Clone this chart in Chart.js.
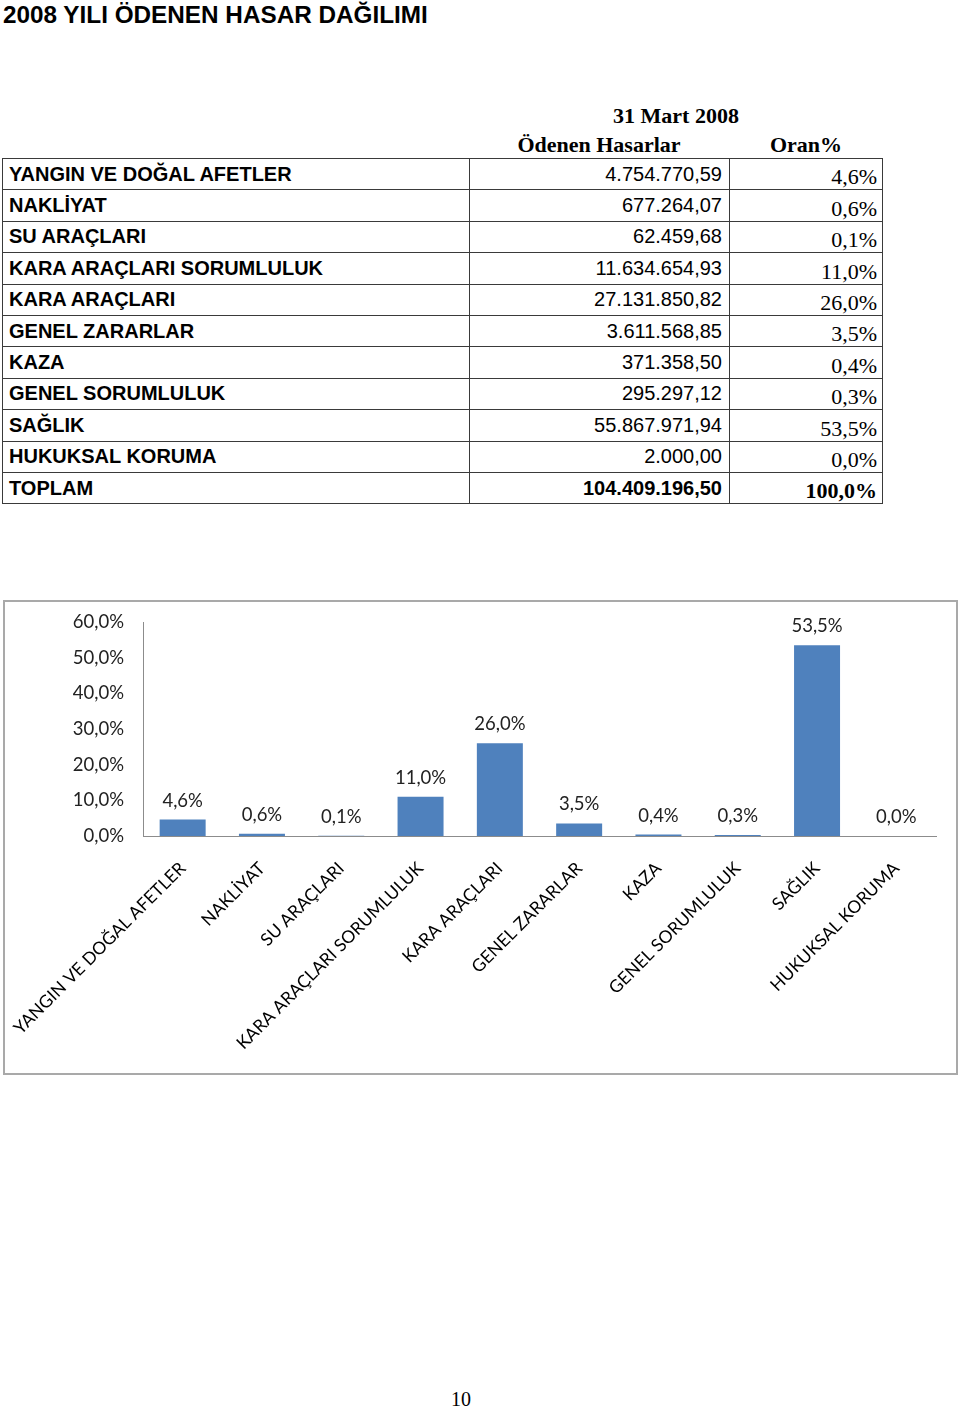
<!DOCTYPE html>
<html>
<head>
<meta charset="utf-8">
<script src="https://cdn.jsdelivr.net/npm/chart.js@4"></script>
<style>
  body { margin: 0; background: #fff; width: 960px; height: 1409px; position: relative; }
  #title { position: absolute; left: 3px; top: 1px; font: bold 24.3px "Liberation Sans", Arial, sans-serif; color: #000; }
  .hdr { position: absolute; font: bold 22px "Liberation Serif", "Times New Roman", serif; color: #000; white-space: nowrap; transform: translateX(-50%); }
  #tbl { position: absolute; left: 2px; top: 158px; border-collapse: collapse; }
  #tbl td { border: 1px solid #3a3a3a; height: 30.4px; padding: 0; white-space: nowrap; }
  #tbl td.lab { width: 460px; padding-left: 6px; font: bold 20px "Liberation Sans", Arial, sans-serif; }
  #tbl td.amt { width: 252px; padding-right: 7px; text-align: right; font: 20px "Liberation Sans", Arial, sans-serif; }
  #tbl td.pct { width: 147px; padding-right: 5px; text-align: right; vertical-align: bottom; font: 22px "Liberation Serif", "Times New Roman", serif; line-height: 24px; }
  #tbl tr.tot td.amt, #tbl tr.tot td.pct { font-weight: bold; }
  #box { position: absolute; left: 3px; top: 600px; width: 955px; height: 475px; box-sizing: border-box; border: 2px solid #a9a9a9; }
  #page { position: absolute; left: 451px; top: 1388px; font: 20px "Liberation Serif", "Times New Roman", serif; }
</style>
</head>
<body>
<div id="title">2008 YILI ÖDENEN HASAR DAĞILIMI</div>
<div class="hdr" style="left:676px; top:103px;">31 Mart 2008</div>
<div class="hdr" style="left:599px; top:132px;">Ödenen Hasarlar</div>
<div class="hdr" style="left:806px; top:132px;">Oran%</div>
<table id="tbl"></table>
<div id="box"><canvas id="bar" width="951" height="471"></canvas></div>
<div id="page">10</div>
<script>
// branşlar
const categories = [
    'YANGIN VE DOĞAL AFETLER', 'NAKLİYAT', 'SU ARAÇLARI', 'KARA ARAÇLARI SORUMLULUK',
    'KARA ARAÇLARI', 'GENEL ZARARLAR', 'KAZA', 'GENEL SORUMLULUK', 'SAĞLIK', 'HUKUKSAL KORUMA'
];
// ödenen hasarlar (TL)
const amounts = [
    4754770.59, 677264.07, 62459.68, 11634654.93, 27131850.82,
    3611568.85, 371358.50, 295297.12, 55867971.94, 2000.00
];
// oran %
const ratios = [4.6, 0.6, 0.1, 11.0, 26.0, 3.5, 0.4, 0.3, 53.5, 0.0];
const totalLabel = 'TOPLAM';
const totalAmount = 104409196.50;
const totalRatio = 100.0;
const yTicks = [0, 10, 20, 30, 40, 50, 60];

// 1.234.567,89 biçimi
function fmtTL(n) {
    const parts = n.toFixed(2).split('.');
    return parts[0].replace(/\B(?=(\d{3})+(?!\d))/g, '.') + ',' + parts[1];
}
function fmtPct(n) {
    return n.toFixed(1).replace('.', ',') + '%';
}

// tablo
const tbl = document.getElementById('tbl');
function addRow(label, amt, pct, cls) {
    const tr = document.createElement('tr');
    if (cls) tr.className = cls;
    tr.innerHTML = '<td class="lab">' + label + '</td><td class="amt">' + fmtTL(amt) +
        '</td><td class="pct">' + fmtPct(pct) + '</td>';
    tbl.appendChild(tr);
}
categories.forEach((c, i) => addRow(c, amounts[i], ratios[i]));
addRow(totalLabel, totalAmount, totalRatio, 'tot');

// bar üstü etiketler
const valueLabels = {
    id: 'valueLabels',
    afterDatasetsDraw(chart) {
        const c = chart.ctx;
        c.save();
        c.font = '18.5px Lato, "Open Sans", sans-serif';
        c.fillStyle = '#222';
        c.textAlign = 'center';
        c.textBaseline = 'middle';
        chart.getDatasetMeta(0).data.forEach((bar, i) => {
            c.fillText(fmtPct(ratios[i]), bar.x, bar.y - 19);
        });
        c.restore();
    }
};

const ctxBar = document.getElementById('bar').getContext('2d');
const axisColor = '#8c8c8c';

new Chart(ctxBar, {
    type: 'bar',
    data: {
        labels: categories,
        datasets: [{
            data: ratios,
            backgroundColor: '#4f81bd',
            borderWidth: 0,
            barPercentage: 0.58,
            categoryPercentage: 1.0
        }]
    },
    options: {
        responsive: false,
        animation: false,
        layout: { padding: { top: 20, right: 20, left: 0, bottom: 0 } },
        plugins: { legend: { display: false }, tooltip: { enabled: false } },
        scales: {
            x: {
                // tick işaretleri çizilmiyor, sadece etiket boşluğu için
                grid: { display: false, drawTicks: true, tickLength: 22 },
                border: { color: axisColor, width: 1 },
                ticks: {
                    autoSkip: false,
                    minRotation: 45,
                    maxRotation: 45,
                    padding: 0,
                    color: '#000',
                    font: { family: 'Lato, "Open Sans", sans-serif', size: 17.5 }
                },
                afterFit(scale) { scale.height = 237; }
            },
            y: {
                min: 0,
                max: 60,
                afterBuildTicks(scale) { scale.ticks = yTicks.map(v => ({ value: v })); },
                grid: { display: false, drawTicks: true, tickLength: 18 },
                border: { color: axisColor, width: 1 },
                ticks: {
                    padding: 1,
                    color: '#222',
                    font: { family: 'Lato, "Open Sans", sans-serif', size: 18.5 },
                    callback: v => fmtPct(v)
                },
                afterFit(scale) { scale.width = 138; }
            }
        }
    },
    plugins: [valueLabels]
});
</script>
</body>
</html>
